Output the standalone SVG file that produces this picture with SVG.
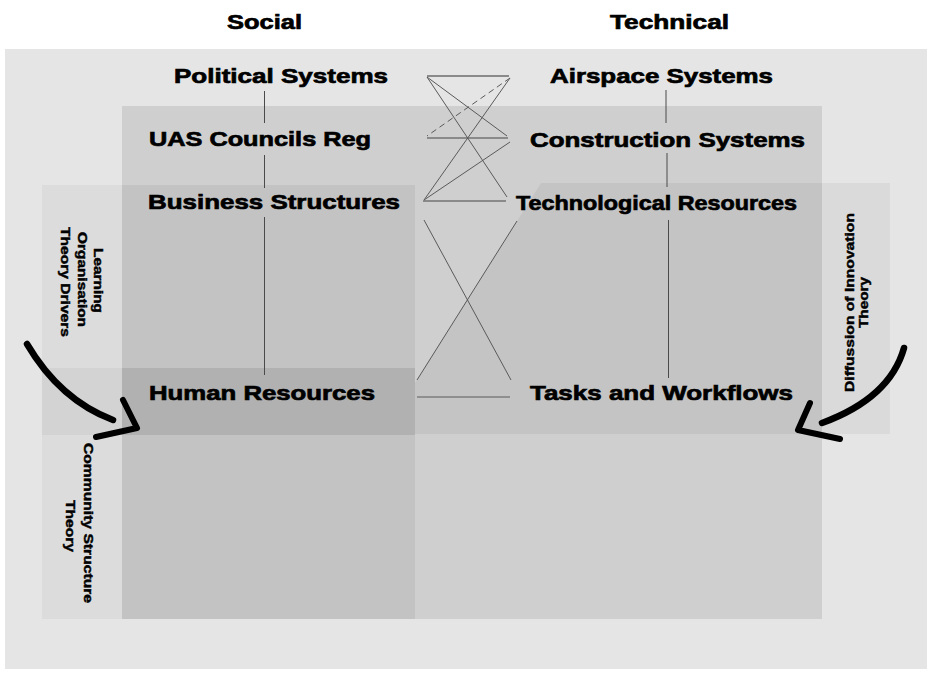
<svg xmlns="http://www.w3.org/2000/svg" width="930" height="675" viewBox="0 0 930 675">
<style>
.lbl{font-family:"Liberation Sans",Arial,sans-serif;font-weight:bold;font-size:21px;fill:#000;stroke:#000;stroke-width:0.7}
.side{font-family:"Liberation Sans",Arial,sans-serif;font-weight:bold;font-size:13.5px;fill:#000;stroke:#000;stroke-width:0.45}
.v{stroke:#4a4a4a;stroke-width:1;fill:none}
.x{stroke:#5a5a5a;stroke-width:1;fill:none}
.h2{stroke:#8a8a8a;stroke-width:2;fill:none}
.brush{fill:none;stroke:#000;stroke-width:6.5;stroke-linecap:round}
.head{fill:none;stroke:#000;stroke-width:6;stroke-linecap:round;stroke-linejoin:round}
</style>
<rect x="0" y="0" width="930" height="675" fill="#fff"/>
<g id="regions">
<rect x="5" y="49" width="922" height="620" fill="#e5e5e5"/>
<rect x="122" y="106" width="700" height="513" fill="#cfcfcf"/>
<rect x="42" y="185" width="80" height="434" fill="#dcdcdc"/>
<rect x="122" y="185" width="293" height="434" fill="#c3c3c3"/>
<rect x="822" y="183" width="68" height="251" fill="#dadada"/>
<polygon points="541,183 822,183 822,434 415,434 415,383" fill="#c4c4c4"/>
<rect x="42" y="368" width="80" height="67" fill="#d3d3d3"/>
<rect x="122" y="368" width="293" height="67" fill="#b1b1b1"/>
</g>
<g id="connectors">
<line class="v" x1="264.5" y1="91" x2="264.5" y2="123"/>
<line class="v" x1="264.5" y1="155" x2="264.5" y2="188"/>
<line class="v" x1="264.5" y1="217" x2="264.5" y2="375"/>
<line class="v" x1="666" y1="90" x2="666" y2="123"/>
<line class="v" x1="667" y1="153" x2="667" y2="187"/>
<line class="v" x1="668.5" y1="220" x2="668.5" y2="378"/>
<line class="h2" x1="427" y1="76" x2="509" y2="76"/>
<line class="h2" x1="427" y1="138" x2="508" y2="138"/>
<line class="h2" x1="423" y1="201" x2="506" y2="201"/>
<line class="x" x1="510" y1="78" x2="427" y2="136" stroke-dasharray="6 4"/>
<line class="x" x1="427" y1="77" x2="507" y2="136"/>
<line class="x" x1="427" y1="77" x2="507" y2="197"/>
<line class="x" x1="510" y1="78" x2="424" y2="200"/>
<line class="x" x1="510" y1="142" x2="424" y2="200"/>
<line class="x" x1="424" y1="220" x2="511" y2="380"/>
<line class="x" x1="517" y1="221" x2="417" y2="380"/>
<line class="x" x1="417" y1="397" x2="510" y2="397"/>
</g>
<g id="arrows">
<path class="brush" d="M27,344 Q60,400 113,420"/>
<polyline class="head" points="123,400 137,428 96,437"/>
<path class="brush" d="M904,348 Q890,398 822,423"/>
<polyline class="head" points="810,403 798,430 840,439"/>
</g>
<g id="title-social"><text class="lbl" x="227" y="29" textLength="75" lengthAdjust="spacingAndGlyphs">Social</text></g>
<g id="title-technical"><text class="lbl" x="610" y="29" textLength="119" lengthAdjust="spacingAndGlyphs">Technical</text></g>
<g id="node-political"><text class="lbl" x="174" y="83" textLength="214" lengthAdjust="spacingAndGlyphs">Political Systems</text></g>
<g id="node-airspace"><text class="lbl" x="550" y="83" textLength="223" lengthAdjust="spacingAndGlyphs">Airspace Systems</text></g>
<g id="node-uas"><text class="lbl" x="149" y="146" textLength="222" lengthAdjust="spacingAndGlyphs">UAS Councils Reg</text></g>
<g id="node-construction"><text class="lbl" x="530" y="147" textLength="275" lengthAdjust="spacingAndGlyphs">Construction Systems</text></g>
<g id="node-business"><text class="lbl" x="148" y="209" textLength="252" lengthAdjust="spacingAndGlyphs">Business Structures</text></g>
<g id="node-technological"><text class="lbl" x="516" y="210" textLength="281" lengthAdjust="spacingAndGlyphs">Technological Resources</text></g>
<g id="node-human"><text class="lbl" x="149" y="400" textLength="226" lengthAdjust="spacingAndGlyphs">Human Resources</text></g>
<g id="node-tasks"><text class="lbl" x="530" y="400" textLength="263" lengthAdjust="spacingAndGlyphs">Tasks and Workflows</text></g>
<g id="label-learning">
<text class="side" transform="translate(94,248) rotate(90)" textLength="65" lengthAdjust="spacingAndGlyphs">Learning</text>
<text class="side" transform="translate(77.5,232) rotate(90)" textLength="95" lengthAdjust="spacingAndGlyphs">Organisation</text>
<text class="side" transform="translate(61,227) rotate(90)" textLength="110" lengthAdjust="spacingAndGlyphs">Theory Drivers</text>
</g>
<g id="label-community">
<text class="side" transform="translate(84,443) rotate(90)" textLength="160" lengthAdjust="spacingAndGlyphs">Community Structure</text>
<text class="side" transform="translate(66,500) rotate(90)" textLength="52" lengthAdjust="spacingAndGlyphs">Theory</text>
</g>
<g id="label-diffusion">
<text class="side" transform="translate(854,392) rotate(-90)" textLength="179" lengthAdjust="spacingAndGlyphs">Diffussion of Innovation</text>
<text class="side" transform="translate(867.5,328) rotate(-90)" textLength="51" lengthAdjust="spacingAndGlyphs">Theory</text>
</g>
</svg>
